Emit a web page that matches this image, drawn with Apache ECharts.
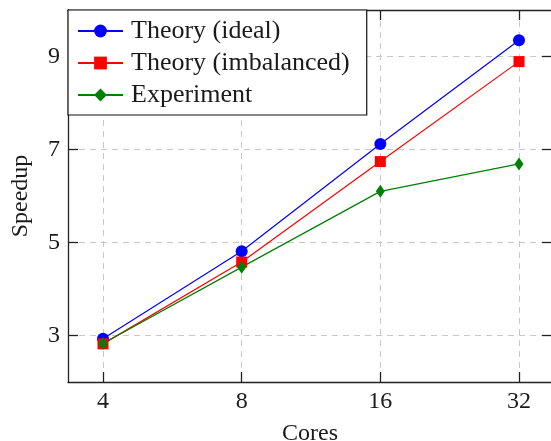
<!DOCTYPE html>
<html><head><meta charset="utf-8">
<script src="https://cdn.jsdelivr.net/npm/echarts@6/dist/echarts.min.js"></script>
<style>html,body{margin:0;padding:0;background:#fff}#c{width:551px;height:441px}</style>
</head><body><div id="c"></div>
<script>
const cores = [4, 8, 16, 32];
const xTicks = [4, 8, 16, 32];
const yTicks = [3, 5, 7, 9];
const seriesNames = ['Theory (ideal)', 'Theory (imbalanced)', 'Experiment'];
const ideal = [2.93, 4.81, 7.12, 9.35];
const imbalanced = [2.82, 4.58, 6.74, 8.89];
const experiment = [2.83, 4.47, 6.10, 6.69];

const FONT = 'Liberation Serif';
const frame = { color: '#222', width: 1.3 };
const grid = { color: '#c8c8c8', width: 1, type: [6, 5] };
const pair = arr => cores.map((c, i) => [c, arr[i]]);

const xBase = {
  type: 'log', logBase: 2, min: 3.358, max: 37.74,
  axisLine: { show: true, onZero: false, lineStyle: frame },
  axisTick: { show: true, inside: true, length: 10, customValues: xTicks, lineStyle: frame }
};
const yBase = {
  type: 'value', min: 2, max: 10,
  axisLine: { show: true, onZero: false, lineStyle: frame },
  axisTick: { show: true, inside: true, length: 10, customValues: yTicks, lineStyle: frame }
};

const chart = echarts.init(document.getElementById('c'), null, { renderer: 'canvas' });
chart.setOption({
  animation: false,
  backgroundColor: '#fff',
  textStyle: { fontFamily: FONT },
  grid: { left: 68, right: -1, top: 10, bottom: 59, containLabel: false, outerBoundsMode: 'none' },
  legend: {
    orient: 'vertical', left: 68, top: 10,
    padding: [8, 17, 7, 9],
    itemWidth: 45, itemHeight: 16, itemGap: 6,
    backgroundColor: '#fff', borderColor: '#111', borderWidth: 1.2,
    textStyle: { fontFamily: FONT, fontSize: 26, color: '#1a1a1a', padding: [0, 0, 0, 3] },
    data: seriesNames
  },
  xAxis: [
    Object.assign({}, xBase, {
      position: 'bottom',
      axisLabel: { customValues: xTicks, fontFamily: FONT, fontSize: 24, color: '#1a1a1a', margin: 8,
        formatter: v => String(Math.round(v)) },
      splitLine: { show: true, lineStyle: grid },
      name: 'Cores', nameLocation: 'middle', nameGap: 40,
      nameTextStyle: { fontFamily: FONT, fontSize: 24, color: '#1a1a1a' }
    }),
    Object.assign({}, xBase, {
      position: 'top', axisLabel: { show: false }, splitLine: { show: false }
    })
  ],
  yAxis: [
    Object.assign({}, yBase, {
      position: 'left',
      axisLabel: { customValues: yTicks, fontFamily: FONT, fontSize: 24, color: '#1a1a1a', margin: 8 },
      splitLine: { show: true, lineStyle: grid },
      name: 'Speedup', nameLocation: 'middle', nameGap: 35,
      nameTextStyle: { fontFamily: FONT, fontSize: 24, color: '#1a1a1a' }
    }),
    Object.assign({}, yBase, {
      position: 'right', axisLabel: { show: false }, splitLine: { show: false }
    })
  ],
  series: [
    { name: seriesNames[0], type: 'line', data: pair(ideal), symbol: 'circle', symbolSize: 12,
      lineStyle: { color: '#0000ff', width: 1.2 }, itemStyle: { color: '#0000ff' } },
    { name: seriesNames[1], type: 'line', data: pair(imbalanced), symbol: 'rect', symbolSize: 11,
      lineStyle: { color: '#ff0000', width: 1.2 }, itemStyle: { color: '#ff0000' } },
    { name: seriesNames[2], type: 'line', data: pair(experiment), symbol: 'diamond', symbolSize: [9, 13],
      lineStyle: { color: '#008000', width: 1.2 }, itemStyle: { color: '#008000' } }
  ]
});
</script></body></html>
